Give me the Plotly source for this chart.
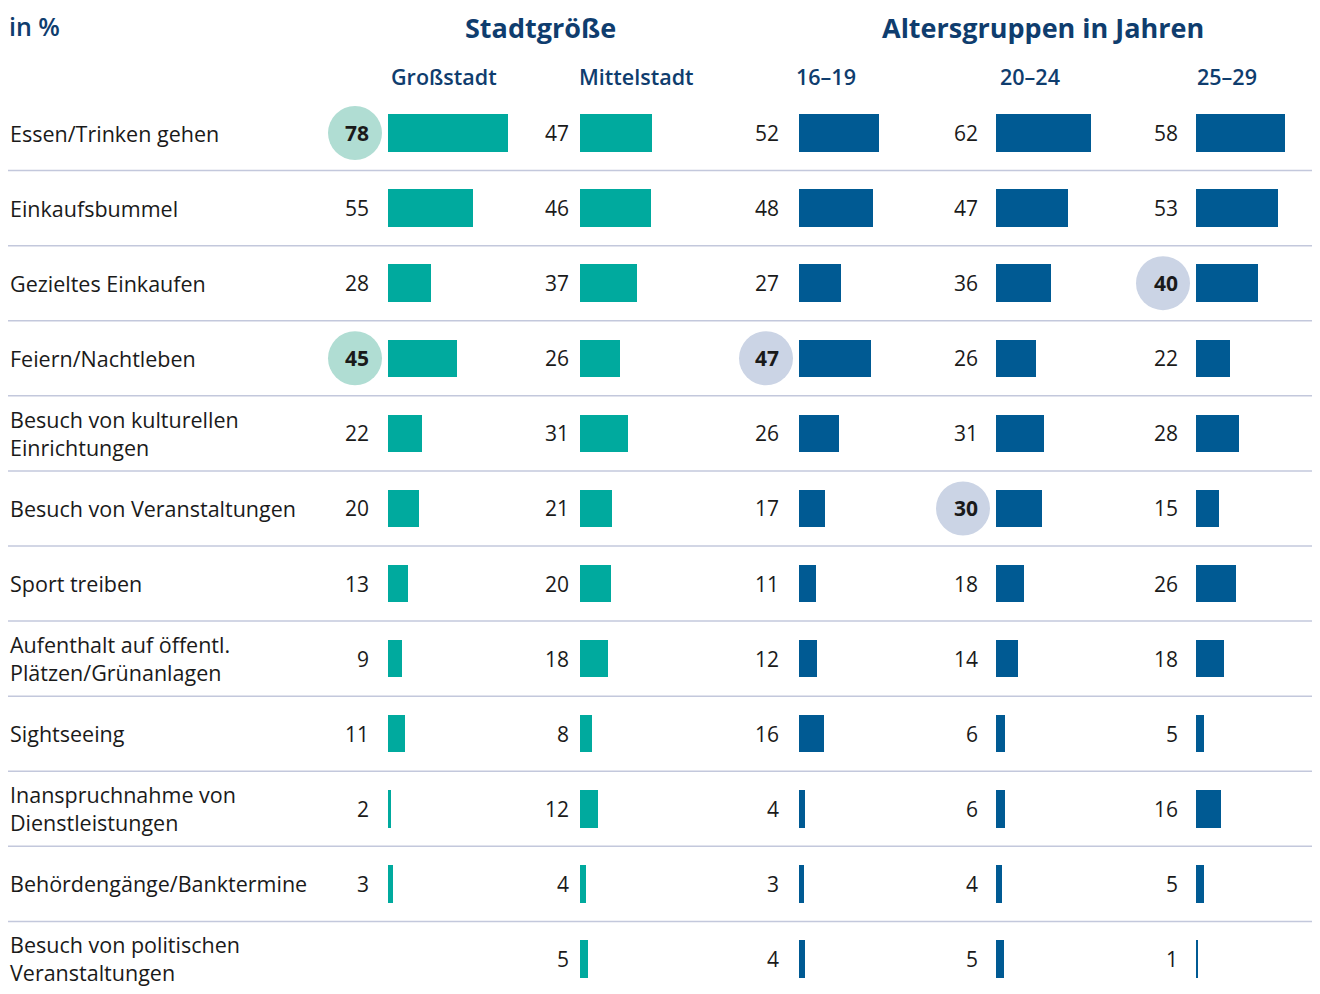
import plotly.graph_objects as go

categories = [
    "Essen/Trinken gehen",
    "Einkaufsbummel",
    "Gezieltes Einkaufen",
    "Feiern/Nachtleben",
    "Besuch von kulturellen<br>Einrichtungen",
    "Besuch von Veranstaltungen",
    "Sport treiben",
    "Aufenthalt auf öffentl.<br>Plätzen/Grünanlagen",
    "Sightseeing",
    "Inanspruchnahme von<br>Dienstleistungen",
    "Behördengänge/Banktermine",
    "Besuch von politischen<br>Veranstaltungen",
]
column_labels = ["Großstadt", "Mittelstadt", "16–19", "20–24", "25–29"]
group_labels = ["Stadtgröße", "Altersgruppen in Jahren"]

grossstadt = [78, 55, 28, 45, 22, 20, 13, 9, 11, 2, 3, None]
mittelstadt = [47, 46, 37, 26, 31, 21, 20, 18, 8, 12, 4, 5]
age_16_19 = [52, 48, 27, 47, 26, 17, 11, 12, 16, 4, 3, 4]
age_20_24 = [62, 47, 36, 26, 31, 30, 18, 14, 6, 6, 4, 5]
age_25_29 = [58, 53, 40, 22, 28, 15, 26, 18, 5, 16, 5, 1]
series = [grossstadt, mittelstadt, age_16_19, age_20_24, age_25_29]

# highlighted values: (column index, row index)
highlights = [(0, 0), (0, 3), (2, 3), (3, 5), (4, 2)]

# ---- styling / layout ----
W, H = 1320, 994
OFF = 8  # page body margin compensation
TEAL = "#00aa9e"
BLUE = "#005a93"
TEAL_LIGHT = "#b0ddd3"
BLUE_LIGHT = "#cbd4e5"
NAVY = "#0f3d6e"
TEXT = "#1a1a1a"
SEP = "#c3c8dc"
FONT = "Open Sans"

bar_start_px = [388, 580, 799, 996, 1196]
label_gap_px = [19, 11, 20, 18, 18]
circle_offset_px = 33
circle_r = 27
px_per_unit = 1.54
xmax = 80
colors = [TEAL, TEAL, BLUE, BLUE, BLUE]
light = [TEAL_LIGHT, TEAL_LIGHT, BLUE_LIGHT, BLUE_LIGHT, BLUE_LIGHT]
header_center_px = [444, 636, 826, 1030, 1227]
group_center_px = [540, 1043]


def px(xp):
    return (xp - OFF) / W


def py(yp):
    return (H - (yp - OFF)) / H


row0_px = 133 - OFF
pitch = 75.09
n = len(categories)
y_top = -row0_px / pitch
y_bot = (H - row0_px) / pitch

fig = go.Figure()
layout_axes = {}
ypos = list(range(n))
for c, vals in enumerate(series):
    ax = "" if c == 0 else str(c + 1)
    d0 = px(bar_start_px[c])
    d1 = min(px(bar_start_px[c] + xmax * px_per_unit), 1.0)
    fig.add_trace(go.Bar(
        x=vals, y=ypos, orientation="h",
        marker=dict(color=colors[c], line=dict(width=0)),
        width=0.5, xaxis="x" + ax, yaxis="y",
        hoverinfo="x", showlegend=False,
    ))
    layout_axes["xaxis" + ax] = dict(
        domain=[d0, d1], range=[0, xmax], visible=False, fixedrange=True,
        anchor="y",
    )
    for r, v in enumerate(vals):
        if v is None:
            continue
        bold = (c, r) in highlights
        if bold:
            fig.add_shape(
                type="circle", xref="paper", yref="y",
                xsizemode="pixel", ysizemode="pixel",
                xanchor=d0, yanchor=r,
                x0=-circle_offset_px - circle_r, x1=-circle_offset_px + circle_r,
                y0=-circle_r, y1=circle_r,
                fillcolor=light[c], line=dict(width=0), layer="below",
            )
        fig.add_annotation(
            x=0, y=r, xref="x" + ax, yref="y",
            text=f"<b>{v}</b>" if bold else str(v),
            xanchor="right", yanchor="middle", xshift=-label_gap_px[c] + 2,
            showarrow=False,
            font=dict(family=FONT, size=21, color=TEXT),
        )
    fig.add_annotation(
        x=px(header_center_px[c]), y=py(77), xref="paper", yref="paper",
        text=column_labels[c], showarrow=False, xanchor="center", yanchor="middle",
        font=dict(family=FONT, size=21.5, color=NAVY, weight=600),
    )

for g, lab in enumerate(group_labels):
    fig.add_annotation(
        x=px(group_center_px[g]), y=1.0, xref="paper", yref="paper",
        text=f"<b>{lab}</b>", showarrow=False, xanchor="center", yanchor="top",
        borderpad=0,
        font=dict(family=FONT, size=27, color=NAVY),
    )

fig.add_annotation(
    x=px(8), y=1.0, xref="paper", yref="paper",
    text="in %", showarrow=False, xanchor="left", yanchor="top",
    borderpad=0,
    font=dict(family=FONT, size=25, color=NAVY, weight=600),
)

# row labels
for r, cat in enumerate(categories):
    fig.add_annotation(
        x=px(8), y=r, xref="paper", yref="y",
        text=cat, showarrow=False, xanchor="left", yanchor="middle", align="left",
        font=dict(family=FONT, size=21.5, color=TEXT),
    )

# separators between rows
for r in range(n - 1):
    fig.add_shape(
        type="line", xref="paper", yref="y",
        x0=px(8), x1=1.0, y0=r + 0.5, y1=r + 0.5,
        line=dict(color=SEP, width=1.5), layer="below",
    )

fig.update_layout(
    width=W, height=H,
    margin=dict(l=0, r=0, t=0, b=0),
    paper_bgcolor="white", plot_bgcolor="white",
    bargap=0,
    yaxis=dict(range=[y_bot, y_top], visible=False, fixedrange=True),
    **layout_axes,
)

fig.write_html("out.html")
